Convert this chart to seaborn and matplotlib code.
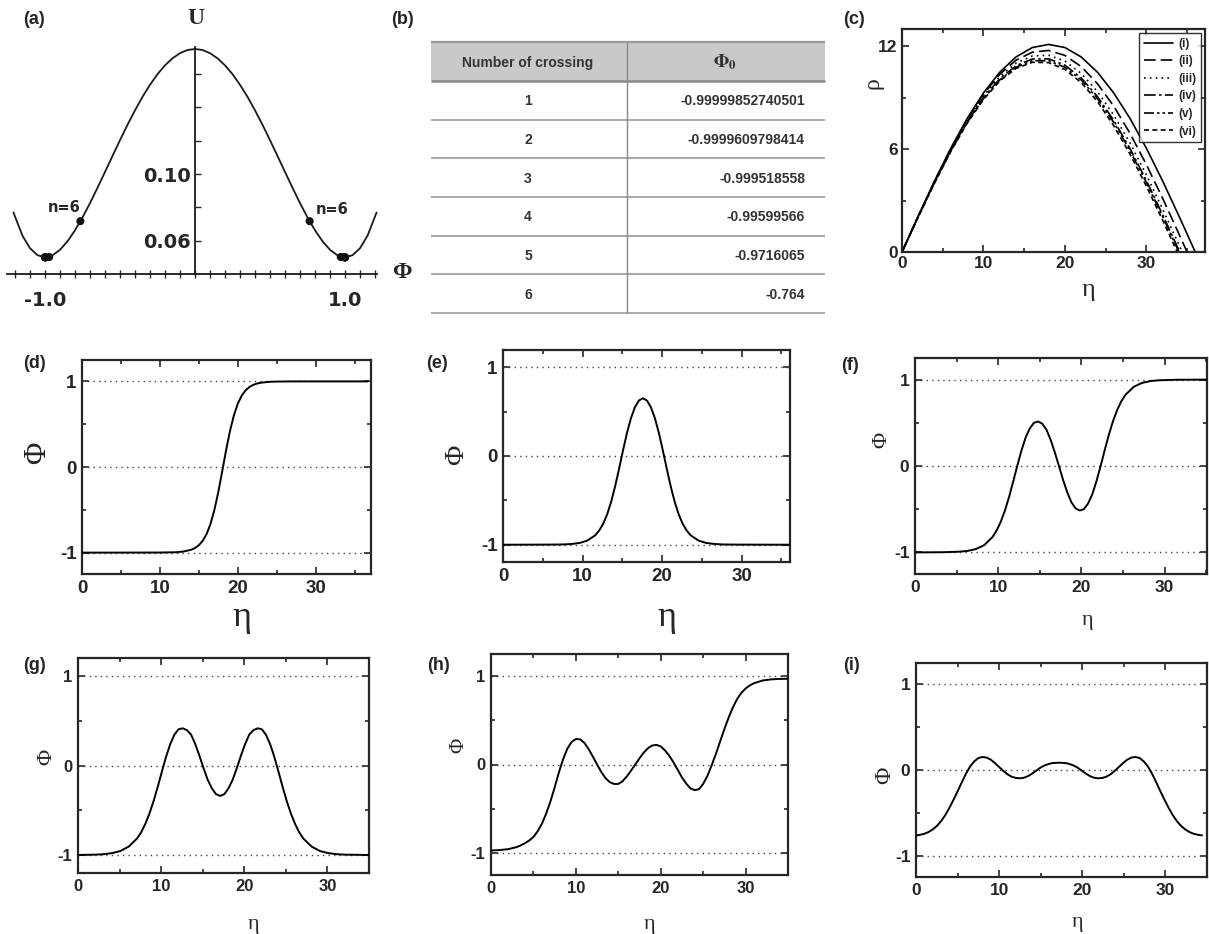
import matplotlib
matplotlib.use("Agg")
import matplotlib.pyplot as plt
import numpy as np
import pandas as pd
import seaborn as sns

sns.set_style("ticks")
plt.rcParams["font.family"] = ["Liberation Sans", "DejaVu Sans"]
plt.rcParams["mathtext.fontset"] = "stix"
plt.rcParams["axes.unicode_minus"] = False

# ---------------- data ----------------
# (a) potential U(Phi)
phi_a = [-1.21, -1.15, -1.10, -1.05, -1.00, -0.95, -0.90, -0.85, -0.80, -0.75, -0.70, -0.65,
         -0.60, -0.55, -0.50, -0.45, -0.40, -0.35, -0.30, -0.25, -0.20, -0.15, -0.10, -0.05, 0.00,
         0.05, 0.10, 0.15, 0.20, 0.25, 0.30, 0.35, 0.40, 0.45, 0.50, 0.55, 0.60, 0.65, 0.70,
         0.75, 0.80, 0.85, 0.90, 0.95, 1.00, 1.05, 1.10, 1.15, 1.21]
U_a = [0.0769, 0.0630, 0.0555, 0.0513, 0.0500, 0.0512, 0.0545, 0.0596, 0.0662, 0.0739, 0.0825,
       0.0917, 0.1012, 0.1108, 0.1203, 0.1295, 0.1382, 0.1463, 0.1535, 0.1599, 0.1652, 0.1694,
       0.1725, 0.1744, 0.1750,
       0.1744, 0.1725, 0.1694, 0.1652, 0.1599, 0.1535, 0.1463, 0.1382, 0.1295, 0.1203, 0.1108,
       0.1012, 0.0917, 0.0825, 0.0739, 0.0662, 0.0596, 0.0545, 0.0512, 0.0500, 0.0513, 0.0555,
       0.0630, 0.0769]

# (b) table
crossings = ["1", "2", "3", "4", "5", "6"]
phi0_text = ["-0.99999852740501", "-0.9999609798414", "-0.999518558",
             "-0.99599566", "-0.9716065", "-0.764"]
U_at_phi0 = [0.0500, 0.0500, 0.0500, 0.0500, 0.0502, 0.0717]

# (c) rho(eta)
eta_c_i = [0, 2, 4, 6, 8, 10, 12, 14, 16, 18, 20, 22, 24, 26, 28, 30, 32, 34, 36]
rho_i = [0, 2.10, 4.14, 6.05, 7.78, 9.27, 10.48, 11.37, 11.92, 12.10, 11.92, 11.37, 10.48,
         9.27, 7.78, 6.05, 4.14, 2.10, 0]
eta_c_ii = [0, 2, 4, 6, 8, 10, 12, 14, 16, 18, 20, 22, 24, 26, 28, 30, 32, 34, 35]
rho_ii = [0, 2.10, 4.13, 6.03, 7.74, 9.19, 10.36, 11.18, 11.65, 11.75, 11.46, 10.81, 9.81,
          8.50, 6.91, 5.10, 3.13, 1.05, 0]
eta_c_iii = [0, 2, 4, 6, 8, 10, 12, 14, 16, 18, 20, 22, 24, 26, 28, 30, 32, 34, 34.4]
rho_iii = [0, 2.09, 4.11, 5.99, 7.67, 9.10, 10.23, 11.01, 11.43, 11.47, 11.13, 10.41, 9.35,
           7.98, 6.35, 4.50, 2.50, 0.42, 0]
eta_c_iv = [0, 2, 4, 6, 8, 10, 12, 14, 16, 18, 20, 22, 24, 26, 28, 30, 32, 34, 34.1]
rho_iv = [0, 2.07, 4.07, 5.93, 7.59, 9.00, 10.10, 10.86, 11.25, 11.26, 10.89, 10.15, 9.06,
          7.67, 6.02, 4.17, 2.17, 0.10, 0]
eta_c_v = [0, 2, 4, 6, 8, 10, 12, 14, 16, 18, 20, 22, 24, 26, 28, 30, 32, 34]
rho_v = [0, 2.06, 4.05, 5.90, 7.55, 8.94, 10.03, 10.77, 11.15, 11.15, 10.77, 10.03, 8.94,
         7.55, 5.90, 4.05, 2.06, 0]
eta_c_vi = [0, 2, 4, 6, 8, 10, 12, 14, 16, 18, 20, 22, 24, 26, 28, 30, 32, 33.8]
rho_vi = [0, 2.05, 4.03, 5.87, 7.51, 8.89, 9.97, 10.70, 11.06, 11.04, 10.64, 9.88, 8.77,
          7.36, 5.70, 3.84, 1.85, 0]
legend_c = ["(i)", "(ii)", "(iii)", "(iv)", "(v)", "(vi)"]

# (d) one crossing
eta_d = [0, 5, 10, 12, 13, 14, 14.5, 15, 15.5, 16, 16.5, 17, 17.5, 18, 18.5, 19, 19.5, 20,
         20.5, 21, 21.5, 22, 22.5, 23, 24, 25, 27, 30, 36.7]
phi_d = [-1.0, -1.0, -0.999, -0.996, -0.988, -0.967, -0.947, -0.914, -0.862, -0.782, -0.664,
         -0.500, -0.291, -0.050, 0.197, 0.422, 0.604, 0.740, 0.834, 0.896, 0.935, 0.960, 0.976,
         0.985, 0.995, 0.998, 1.0, 1.0, 1.0]

# (e) two crossings
eta_e = [0, 5.6, 7.6, 8.6, 9.6, 10.6, 11.6, 12.1, 12.6, 13.1, 13.6, 14.1, 14.6, 15.1, 15.6,
         16.1, 16.6, 17.1, 17.6, 18.1, 18.6, 19.1, 19.6, 20.1, 20.6, 21.1, 21.6, 22.1, 22.6,
         23.1, 23.6, 24.6, 25.6, 26.6, 27.6, 29.6, 36.0]
phi_e = [-1.0, -0.999, -0.997, -0.992, -0.981, -0.954, -0.894, -0.840, -0.764, -0.658, -0.518,
         -0.343, -0.144, 0.065, 0.262, 0.428, 0.551, 0.626, 0.651, 0.626, 0.551, 0.428, 0.262,
         0.065, -0.144, -0.343, -0.518, -0.658, -0.764, -0.840, -0.894, -0.954, -0.981, -0.992,
         -0.997, -0.999, -1.0]

# (f) three crossings
eta_f = [0, 3.3, 5.3, 6.3, 7.3, 8.3, 9.3, 9.8, 10.3, 10.8, 11.3, 11.8, 12.3, 12.8, 13.3, 13.8,
         14.3, 14.8, 15.3, 15.8, 16.3, 16.8, 17.3, 17.8, 18.3, 18.8, 19.3, 19.8, 20.3, 20.8,
         21.3, 21.8, 22.3, 22.8, 23.3, 23.8, 24.3, 24.8, 25.3, 26.3, 27.3, 28.3, 29.3, 31.3, 35.0]
phi_f = [-1.0, -0.998, -0.992, -0.983, -0.962, -0.917, -0.824, -0.749, -0.648, -0.519, -0.361,
         -0.182, 0.005, 0.18, 0.33, 0.435, 0.50, 0.515, 0.49, 0.42, 0.305, 0.16, 0.0, -0.16,
         -0.305, -0.42, -0.49, -0.515, -0.50, -0.435, -0.33, -0.18, -0.005, 0.182, 0.361, 0.519,
         0.648, 0.749, 0.824, 0.917, 0.962, 0.983, 0.992, 0.998, 1.0]

# (g) four crossings
eta_g = [0, 2.1, 3.1, 4.1, 5.1, 6.1, 7.1, 7.6, 8.1, 8.6, 9.1, 9.6, 10.1, 10.6, 11.1, 11.6, 12.1,
         12.6, 13.1, 13.6, 14.1, 14.6, 15.1, 15.6, 16.1, 16.6, 17.1, 17.6, 18.1, 18.6, 19.1,
         19.6, 20.1, 20.6, 21.1, 21.6, 22.1, 22.6, 23.1, 23.6, 24.1, 24.6, 25.1, 25.6, 26.1,
         26.6, 27.1, 28.1, 29.1, 30.1, 31.1, 32.1, 35.0]
phi_g = [-0.999, -0.995, -0.99, -0.978, -0.955, -0.905, -0.815, -0.745, -0.65, -0.535, -0.395,
         -0.235, -0.065, 0.10, 0.24, 0.345, 0.405, 0.415, 0.395, 0.345, 0.24, 0.11, -0.03,
         -0.16, -0.255, -0.32, -0.34, -0.32, -0.255, -0.16, -0.03, 0.11, 0.24, 0.345, 0.395,
         0.415, 0.405, 0.345, 0.24, 0.10, -0.065, -0.235, -0.395, -0.535, -0.65, -0.745,
         -0.815, -0.905, -0.955, -0.978, -0.99, -0.995, -0.999]

# (h) five crossings
eta_h = [0, 1, 2, 3, 3.5, 4, 4.5, 5, 5.5, 6, 6.5, 7, 7.5, 8, 8.5, 9, 9.5, 10, 10.5, 11, 11.5,
         12, 12.5, 13, 13.5, 14, 14.5, 15, 15.5, 16, 16.5, 17, 17.5, 18, 18.5, 19, 19.5, 20,
         20.5, 21, 21.5, 22, 22.5, 23, 23.5, 24, 24.5, 25, 25.5, 26, 26.5, 27, 27.5, 28, 28.5,
         29, 29.5, 30, 30.5, 31, 32, 33, 34, 35]
phi_h = [-0.973, -0.968, -0.958, -0.935, -0.915, -0.89, -0.86, -0.82, -0.755, -0.67, -0.555,
         -0.42, -0.26, -0.09, 0.06, 0.18, 0.255, 0.288, 0.285, 0.245, 0.175, 0.09, 0.0, -0.085,
         -0.155, -0.2, -0.22, -0.22, -0.19, -0.135, -0.07, 0.0, 0.07, 0.135, 0.185, 0.215,
         0.222, 0.205, 0.16, 0.1, 0.025, -0.06, -0.145, -0.215, -0.27, -0.29, -0.28, -0.22,
         -0.13, -0.01, 0.12, 0.26, 0.40, 0.53, 0.645, 0.74, 0.81, 0.86, 0.895, 0.92, 0.95,
         0.963, 0.968, 0.97]

# (i) six crossings
eta_i = [0, 0.5, 1, 1.5, 2, 2.5, 3, 3.5, 4, 4.5, 5, 5.5, 6, 6.5, 7, 7.5, 8, 8.5, 9, 9.5, 10,
         10.5, 11, 11.5, 12, 12.5, 13, 13.5, 14, 14.5, 15, 15.5, 16, 16.5, 17.2, 17.9, 18.4,
         18.9, 19.4, 19.9, 20.4, 20.9, 21.4, 21.9, 22.4, 22.9, 23.4, 23.9, 24.4, 24.9, 25.4,
         25.9, 26.4, 26.9, 27.4, 27.9, 28.4, 28.9, 29.4, 29.9, 30.4, 30.9, 31.4, 31.9, 32.4,
         32.9, 33.4, 33.9, 34.4]
phi_i = [-0.764, -0.757, -0.745, -0.725, -0.695, -0.655, -0.60, -0.53, -0.445, -0.35, -0.25,
         -0.145, -0.045, 0.04, 0.10, 0.14, 0.152, 0.145, 0.12, 0.08, 0.035, -0.01, -0.05,
         -0.078, -0.093, -0.097, -0.09, -0.07, -0.04, -0.005, 0.03, 0.055, 0.072, 0.082, 0.085,
         0.082, 0.072, 0.055, 0.03, -0.005, -0.04, -0.07, -0.09, -0.097, -0.093, -0.078, -0.05,
         -0.01, 0.035, 0.08, 0.12, 0.145, 0.152, 0.14, 0.10, 0.04, -0.045, -0.145, -0.25, -0.35,
         -0.445, -0.53, -0.60, -0.655, -0.695, -0.725, -0.745, -0.757, -0.764]

# ---------------- layout helpers ----------------
W, H = 1209, 934
fig = plt.figure(figsize=(W / 100, H / 100), dpi=100)


def px_rect(l, t, r, b):
    return [l / W, 1 - b / H, (r - l) / W, (b - t) / H]


def set_label(ax, which, text, px, py, rect, **kw):
    l, t, r, b = rect
    fx = (px - l) / (r - l)
    fy = (b - py) / (b - t)
    if which == "x":
        ax.set_xlabel(text, **kw)
        ax.xaxis.set_label_coords(fx, fy)
        ax.xaxis.label.set_va("center")
        ax.xaxis.label.set_ha("center")
    else:
        ax.set_ylabel(text, **kw)
        ax.yaxis.set_label_coords(fx, fy)
        ax.yaxis.label.set_va("center")
        ax.yaxis.label.set_ha("center")


def letter(txt, px, py):
    fig.text(px / W, 1 - py / H, txt, ha="center", va="center", fontsize=13,
             fontweight="bold", family=["Liberation Sans", "DejaVu Sans"])


SERIF = ["Liberation Serif", "DejaVu Serif"]

# ---------------- (a) ----------------
rect_a = (7, 40, 380, 274)
ax = fig.add_axes(px_rect(*rect_a))
df_a = pd.DataFrame({"phi": phi_a, "U": U_a})
sns.lineplot(data=df_a, x="phi", y="U", ax=ax, color="#1a1a1a", lw=1.3,
             estimator=None, sort=False)
phi0_vals = [float(s) for s in phi0_text]
df_m = pd.DataFrame({"phi": phi0_vals + [-v for v in phi0_vals], "U": U_at_phi0 + U_at_phi0})
sns.scatterplot(data=df_m, x="phi", y="U", ax=ax, color="#111111", s=34,
                edgecolor="none", zorder=5)
ax.set_xlim(-1.253, 1.233)
ax.set_ylim(0.04, 0.1804)
for s in ("top", "right"):
    ax.spines[s].set_visible(False)
ax.spines["left"].set_position(("data", 0))
ax.spines["left"].set_bounds(0.04, 0.176)
ax.spines["bottom"].set_bounds(-1.25, 1.21)
for s in ("left", "bottom"):
    ax.spines[s].set_linewidth(1.3)
    ax.spines[s].set_color("#1a1a1a")
yt = [0.06, 0.08, 0.10, 0.12, 0.14, 0.16]
ax.set_yticks(yt, ["0.06", "", "0.10", "", "", ""])
xt = [round(v, 1) for v in np.arange(-1.2, 1.21, 0.1)]
ax.set_xticks(xt, ["-1.0" if abs(v + 1.0) < 1e-9 else ("1.0" if abs(v - 1.0) < 1e-9 else "")
                   for v in xt])
ax.tick_params(axis="y", direction="in", length=4, width=1, pad=3, labelsize=14)
ax.tick_params(axis="x", direction="inout", length=6, width=1, pad=9, labelsize=14)
for lb in ax.get_xticklabels() + ax.get_yticklabels():
    lb.set_fontweight("bold")
    lb.set_family(["DejaVu Sans"])
set_label(ax, "x", "Φ", 402, 273, rect_a, fontsize=17, fontweight="bold", family=SERIF)
set_label(ax, "y", "U", 196, 18, rect_a, fontsize=17, fontweight="bold", family=SERIF,
          rotation=0)
ax.annotate("n=6", xy=(phi0_vals[-1], U_at_phi0[-1]), xytext=(-11.5, 10),
            textcoords="offset points", ha="center", va="center", fontsize=10.5,
            fontweight="bold", family=["DejaVu Sans"])
ax.annotate("n=6", xy=(-phi0_vals[-1], U_at_phi0[-1]), xytext=(16.5, 8.6),
            textcoords="offset points", ha="center", va="center", fontsize=10.5,
            fontweight="bold", family=["DejaVu Sans"])
letter("(a)", 34, 20)

# ---------------- (b) table ----------------
axb = fig.add_axes(px_rect(390, 0, 840, 320))
axb.set_xlim(390, 840)
axb.set_ylim(320, 0)
axb.axis("off")
tx0, tx1, col_sep = 431, 825, 627
head_top, head_bot, row_h = 42, 81, 38.7
axb.fill_between([tx0, tx1], head_top, head_bot, color="#c9c9c9", lw=0)
axb.hlines(head_top, tx0, tx1, color="#9a9a9a", lw=1.6)
axb.hlines(head_bot, tx0, tx1, color="#8a8a8a", lw=1.8)
for k in range(1, len(crossings) + 1):
    axb.hlines(head_bot + k * row_h, tx0, tx1, color="#9a9a9a", lw=1.2)
axb.vlines(col_sep, head_top, head_bot + len(crossings) * row_h, color="#8a8a8a", lw=1.0)
tcol = "#333333"
axb.text(528, (head_top + head_bot) / 2 + 1, "Number of crossing", ha="center", va="center",
         fontsize=10, fontweight="bold", color=tcol)
axb.text(725, (head_top + head_bot) / 2 + 1, r"$\mathbf{\Phi_0}$", ha="center", va="center",
         fontsize=13, color=tcol)
for k, (c, v) in enumerate(zip(crossings, phi0_text)):
    yc = head_bot + row_h * (k + 0.5) + 1
    axb.text(528, yc, c, ha="center", va="center", fontsize=10, fontweight="bold", color=tcol)
    axb.text(805, yc, v, ha="right", va="center", fontsize=10, fontweight="bold", color=tcol)
letter("(b)", 403, 20)

# ---------------- (c) ----------------
rect_c = (902, 29, 1205, 252)
axc = fig.add_axes(px_rect(*rect_c))
curves_c = [(eta_c_i, rho_i), (eta_c_ii, rho_ii), (eta_c_iii, rho_iii),
            (eta_c_iv, rho_iv), (eta_c_v, rho_v), (eta_c_vi, rho_vi)]
styles_c = ["-", (0, (7, 3)), (0, (1, 2.5)), (0, (7, 2, 1.5, 2)),
            (0, (6, 1.8, 1.5, 1.8, 1.5, 1.8)), (0, (3, 2))]
for (ex, ry), ls, name in zip(curves_c, styles_c, legend_c):
    sns.lineplot(x=ex, y=ry, ax=axc, color="black", lw=1.2, linestyle=ls, label=name,
                 estimator=None, sort=False)
axc.set_xlim(0, 37.2)
axc.set_ylim(0, 13)
axc.set_xticks([0, 10, 20, 30], ["0", "10", "20", "30"])
axc.set_xticks([5, 15, 25, 35], minor=True)
axc.set_yticks([0, 6, 12], ["0", "6", "12"])
axc.set_yticks([3, 9], minor=True)
axc.tick_params(which="both", direction="in", top=True, right=True, width=1.2, labelsize=12.5)
axc.tick_params(which="major", length=5, pad=3)
axc.tick_params(which="minor", length=3)
for lb in axc.get_xticklabels() + axc.get_yticklabels():
    lb.set_fontweight("bold")
for s in axc.spines.values():
    s.set_linewidth(1.6)
leg = axc.legend(loc="upper right", frameon=True, fancybox=False, edgecolor="black",
                 prop={"weight": "bold", "size": 8.5}, handlelength=2.5, labelspacing=0.47,
                 borderpad=0.4, handletextpad=0.4, borderaxespad=0.35)
leg.get_frame().set_linewidth(1.0)
set_label(axc, "y", "ρ", 873, 83, rect_c, fontsize=17, family=SERIF)
set_label(axc, "x", "η", 1088, 290, rect_c, fontsize=19, family=SERIF)
letter("(c)", 854, 20)

# ---------------- (d)-(i) ----------------
panels = [
    dict(let="(d)", lpos=(35, 363), rect=(82, 360, 371, 574), eta=eta_d, phi=phi_d,
         xmax=37.1, ylim=(-1.25, 1.25), fs=13.5, pfs=22, ppos=(38, 453), efs=26, epos=(242, 617)),
    dict(let="(e)", lpos=(437, 363), rect=(503, 350, 790, 562), eta=eta_e, phi=phi_e,
         xmax=36.1, ylim=(-1.195, 1.195), fs=13.5, pfs=20, ppos=(457, 455), efs=26, epos=(667, 617)),
    dict(let="(f)", lpos=(850, 365), rect=(915, 358, 1207, 574), eta=eta_f, phi=phi_f,
         xmax=35.1, ylim=(-1.25, 1.25), fs=12.5, pfs=16, ppos=(882, 440), efs=16, epos=(1087, 620)),
    dict(let="(g)", lpos=(35, 665), rect=(78, 658, 369, 873), eta=eta_g, phi=phi_g,
         xmax=35.0, ylim=(-1.2, 1.2), fs=12, pfs=16, ppos=(47, 757), efs=16, epos=(253, 925)),
    dict(let="(h)", lpos=(438, 665), rect=(491, 654, 788, 875), eta=eta_h, phi=phi_h,
         xmax=35.0, ylim=(-1.25, 1.25), fs=12, pfs=15, ppos=(459, 745), efs=16, epos=(649, 924)),
    dict(let="(i)", lpos=(852, 665), rect=(916, 663, 1207, 877), eta=eta_i, phi=phi_i,
         xmax=35.0, ylim=(-1.25, 1.25), fs=12.5, pfs=17, ppos=(885, 775), efs=16, epos=(1077, 923)),
]

for p in panels:
    axp = fig.add_axes(px_rect(*p["rect"]))
    for yv in (-1, 0, 1):
        axp.axhline(yv, color="#444444", lw=1.0, ls=(0, (1, 3)), zorder=1)
    sns.lineplot(x=p["eta"], y=p["phi"], ax=axp, color="black", lw=1.4,
                 estimator=None, sort=False, zorder=3)
    axp.set_xlim(0, p["xmax"])
    axp.set_ylim(*p["ylim"])
    axp.set_xticks([0, 10, 20, 30], ["0", "10", "20", "30"])
    axp.set_xticks([5, 15, 25, 35], minor=True)
    axp.set_yticks([-1, 0, 1], ["-1", "0", "1"])
    axp.set_yticks([-0.5, 0.5], minor=True)
    axp.tick_params(which="both", direction="in", top=True, right=True, width=1.2,
                    labelsize=p["fs"])
    axp.tick_params(which="major", length=5, pad=4)
    axp.tick_params(which="minor", length=3)
    for lb in axp.get_xticklabels() + axp.get_yticklabels():
        lb.set_fontweight("bold")
    for s in axp.spines.values():
        s.set_linewidth(1.6)
    set_label(axp, "y", "Φ", p["ppos"][0], p["ppos"][1], p["rect"], fontsize=p["pfs"],
              family=SERIF)
    set_label(axp, "x", "η", p["epos"][0], p["epos"][1], p["rect"], fontsize=p["efs"],
              family=SERIF)
    letter(p["let"], *p["lpos"])

fig.savefig("out.png", dpi=100, facecolor="white")
